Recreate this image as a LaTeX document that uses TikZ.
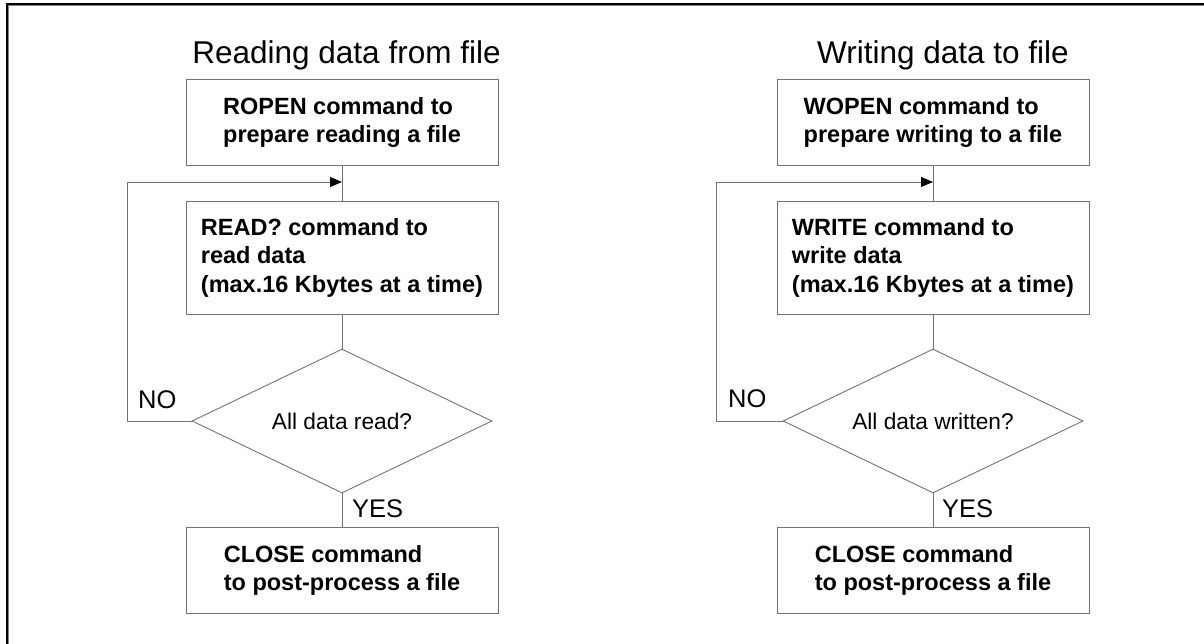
\documentclass[tikz,border=0pt]{standalone}
\usepackage{fontspec}
\setmainfont{Liberation Sans}
\usetikzlibrary{shapes.geometric,arrows.meta,positioning}

\tikzset{
    cmdbox/.style={draw=black!55, line width=0.9pt, minimum width=312pt, minimum height=86pt,
        align=left, font=\fontsize{23.5}{28.5}\selectfont\bfseries},
    testbox/.style={diamond, draw=black!55, line width=0.9pt, aspect=2.08, inner sep=0pt,
        minimum width=300pt, minimum height=144pt, font=\fontsize{22.7}{27}\selectfont},
    flow/.style={draw=black!55, line width=0.9pt},
    back/.style={flow, -{Triangle[length=12pt,width=10pt,black]}},
    title/.style={anchor=base, inner sep=0pt, font=\fontsize{31.5}{36}\selectfont},
    answer/.style={anchor=base west, inner sep=0pt, font=\fontsize{25.5}{30}\selectfont}
}

\begin{document}
\begin{tikzpicture}[x=1pt, y=-1pt]
                \useasboundingbox (0,0) rectangle (1204,644);
                % frame
                \draw[black!50, line width=1pt] (8.5,644) -- (8.5,5.5) -- (1204,5.5);
                \draw[line width=2pt] (7,644) -- (7,4) -- (1204,4);

                % reading
                \node [title] (rtitle) at (346.5,64) {Reading data from file};
                \node [cmdbox] (ropen) at (342,122.5) {ROPEN command to\\prepare reading a file};
                \node [cmdbox, minimum height=113pt] (rread) at (342,257.5) {READ? command to\\read data\\(max.16 Kbytes at a time)};
                \node [testbox] (rcheck) at (342,421) {All data read?};
                \node [cmdbox] (rclose) at (342,570.5) {CLOSE command\\to post-process a file};
                \coordinate (rjoin) at (342,182);
                \coordinate (rcorner) at (127,182);
                \draw [flow] (ropen) -- (rread);
                \draw [flow] (rread) -- (rcheck);
                \draw [flow] (rcheck) -- (rclose);
                \draw [back] (rcheck.west) -| (rcorner) -- (rjoin);
                \node [answer] (rno) at (138,408) {NO};
                \node [answer] (ryes) at (352,517) {YES};

                % writing
                \node [title] (wtitle) at (943,64) {Writing data to file};
                \node [cmdbox] (wopen) at (933,122.5) {WOPEN command to\\prepare writing to a file};
                \node [cmdbox, minimum height=113pt] (wwrite) at (933,257.5) {WRITE command to\\write data\\(max.16 Kbytes at a time)};
                \node [testbox] (wcheck) at (933,421) {All data written?};
                \node [cmdbox] (wclose) at (933,570.5) {CLOSE command\\to post-process a file};
                \coordinate (wjoin) at (933,182);
                \coordinate (wcorner) at (716,182);
                \draw [flow] (wopen) -- (wwrite);
                \draw [flow] (wwrite) -- (wcheck);
                \draw [flow] (wcheck) -- (wclose);
                \draw [back] (wcheck.west) -| (wcorner) -- (wjoin);
                \node [answer] (wno) at (728,407) {NO};
                \node [answer] (wyes) at (942,517) {YES};
\end{tikzpicture}
\end{document}
